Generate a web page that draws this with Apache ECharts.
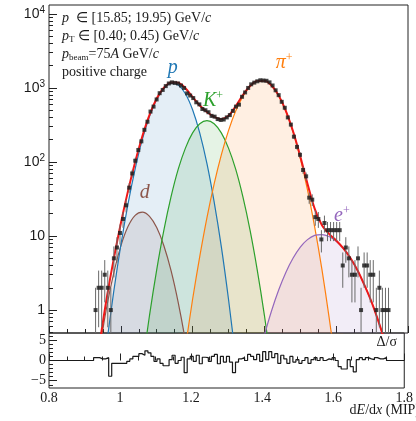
<!DOCTYPE html>
<html>
<head>
<meta charset="utf-8">
<script src="https://cdn.jsdelivr.net/npm/echarts@6/dist/echarts.min.js"></script>
<style>
  html, body { margin: 0; padding: 0; background: #fff; }
  #chart { width: 416px; height: 421px; }
</style>
</head>
<body>
<div id="chart"></div>
<script>
// histogram binning: first filled bin starts at 0.9255, width 0.0085
const binStart = 0.9255;
const binWidth = 0.0085;
const counts = [
  1, 2, 2, 3, 2, 1, 5, 7, 11, 17,
  26, 45, 70, 104, 145, 190, 272, 350, 480, 560,
  700, 850, 940, 1060, 1150, 1190, 1170, 1150, 1080, 1000,
  845, 790, 730, 640, 600, 520, 500, 470, 420, 410,
  380, 370, 375, 400, 430, 490, 560, 595, 760, 870,
  1000, 1120, 1180, 1230, 1270, 1260, 1250, 1190, 1080, 930,
  800, 650, 540, 400, 320, 220, 160, 125, 78, 64,
  33, 31, 18, 17, 9, 15, 12, 12, 12, 12,
  12, 4, 7, 5, 3, 3, 5, 1, 4, 4,
  3, 3, 1, 2, 1, 1, 1,
];
const residuals = [
  0.7, 0.7, 0.4, 0.4, 0.7, -3.9, -0.7, -0.7, -0.7, -0.7,
  -0.7, -0.2, 0.4, 1.0, 1.0, 1.7, 1.3, 2.4, 1.9, 1.0,
  -0.2, 0.4, -0.7, -1.3, -1.3, 0.2, 1.3, -0.7, 0, 0.8,
  -3.0, 0.4, 1.0, -0.2, 1.3, -0.8, 0.8, 0.7, -0.2, 1.0,
  1.5, -0.8, 1.0, -0.4, 1.0, -0.4, -3.0, -0.4, 0.4, 0.7,
  0, 1.5, 1.0, 0.2, 1.5, -0.2, 2.2, 0.2, 2.2, 0.7,
  1.7, -0.7, 1.3, 0.4, -0.7, 1.0, -0.4, 0.2, -0.7, 0,
  0.7, -0.7, 0.2, 0.7, 0, 0.7, 0, 0.4, 0.2, 0.7,
  0, -1.5, -2.1, -2.1, 0.2, -1.5, -2.8, 0.2, 0.7, 0.2,
  0.7, 0.4, 0.2, 0.7, 0.4, 0.4, 0.7,
];

// fitted curves read every 0.02 in dE/dx, starting at `start`
const fitStep = 0.02;
const deuteronFit = { start: 0.92, values: [0.055, 0.27, 1.05, 3.1, 7.3, 13.4, 19, 21, 18.4, 13, 7.4, 3.4, 1.26, 0.38, 0.09, 0.015] };
const protonFit = { start: 0.94, values: [0.05, 0.33, 1.73, 7.5, 27, 81, 202, 415, 704, 988, 1150, 1097, 836, 507, 246, 95, 29, 7.2, 1.4, 0.22, 0.028] };
const kaonFit = { start: 1.04, values: [0.028, 0.17, 0.85, 3.5, 12, 34, 80, 154, 247, 328, 361, 328, 247, 154, 80, 34, 12, 3.5, 0.85, 0.17, 0.028] };
const pionFit = { start: 1.16, values: [0.06, 0.31, 1.4, 5.3, 17.7, 50.6, 125, 265, 487, 770, 1051, 1237, 1253, 1079, 786, 485, 253, 112, 42, 13.3, 3.6, 0.81, 0.16, 0.025] };
const electronFit = { start: 1.36, values: [0.074, 0.2, 0.46, 0.98, 1.88, 3.25, 5.05, 7.1, 8.95, 10.2, 10.47, 9.85, 8.5, 6.8, 5.0, 3.4, 2.1, 1.23, 0.65, 0.32, 0.144, 0.06, 0.023] };
const totalFit = { start: 0.92, values: [
  0.062, 0.32, 1.38, 4.8, 14.8, 40.4, 100, 223, 434, 720,
  1007, 1187, 1178, 991, 755, 579, 474, 408, 379, 420,
  567, 804, 1063, 1241, 1254, 1080, 788, 488, 258, 119,
  51, 23.5, 14.1, 10.7, 8.7, 6.8, 5.0, 3.4, 2.1, 1.23,
  0.65, 0.32, 0.144, 0.06] };

const yMajor = [1, 10, 100, 1000, 10000];
const resMajor = [-5, 0, 5];

const serif = 'Liberation Serif';
const sans = 'Liberation Sans';
const ink = '#1a1a1a';

const toPairs = (fit) => fit.values.map((v, i) => [+(fit.start + i * fitStep).toFixed(2), v]);

const points = counts.map((c, i) => [binStart + (i + 0.5) * binWidth, c]);
const errors = counts.map((c, i) => [binStart + (i + 0.5) * binWidth, c, Math.sqrt(c)]);
const resSteps = [[0.8, 0]]
  .concat(residuals.map((r, i) => [binStart + i * binWidth, r]))
  .concat([[binStart + residuals.length * binWidth, 0], [1.8, 0]]);

const minorLog = [];
[0.1, 1, 10, 100, 1000].forEach((d) => {
  for (let m = 2; m <= 9; m++) {
    const v = +(d * m).toPrecision(3);
    if (v > 0.49 && v < 13200) minorLog.push(v);
  }
});
const resMinor = [-6, -4, -3, -2, -1, 1, 2, 3, 4, 6];

const labelRich = (color) => ({
  m: { fontFamily: serif, fontStyle: 'italic', fontSize: 20, color },
  s: { fontFamily: serif, fontSize: 12, color, padding: [0, 0, 10, 0] },
});

const component = (name, fit, color, label, coord) => ({
  name,
  type: 'line',
  xAxisIndex: 0,
  yAxisIndex: 0,
  data: toPairs(fit),
  smooth: 0.3,
  showSymbol: false,
  z: 2,
  lineStyle: { color, width: 1.2 },
  areaStyle: { color, opacity: 0.12, origin: 'start' },
  markPoint: {
    symbol: 'circle',
    symbolSize: 1,
    itemStyle: { color: 'rgba(0,0,0,0)' },
    label: { show: true, position: 'inside', formatter: label, rich: labelRich(color) },
    data: [{ coord }],
  },
});

const chart = echarts.init(document.getElementById('chart'));

const option = {
  animation: false,
  backgroundColor: '#fff',
  grid: [
    { left: 49, top: 5, width: 359, height: 328, show: true, borderColor: '#222', borderWidth: 1 },
    { left: 49, top: 333, width: 359, height: 55, show: true, borderColor: '#222', borderWidth: 1 },
  ],
  xAxis: [
    {
      gridIndex: 0, type: 'value', min: 0.8, max: 1.8, interval: 0.2,
      axisLine: { show: false },
      axisTick: { inside: true, length: 7, lineStyle: { color: '#222' } },
      minorTick: { show: true, splitNumber: 4, length: 4, lineStyle: { color: '#222' } },
      axisLabel: { show: false },
      splitLine: { show: false },
    },
    {
      gridIndex: 1, type: 'value', min: 0.8, max: 1.8, interval: 0.2,
      axisLine: { show: false },
      axisTick: { inside: true, length: 7, lineStyle: { color: '#222' } },
      minorTick: { show: true, splitNumber: 4, length: 4, lineStyle: { color: '#222' } },
      axisLabel: { fontFamily: serif, fontSize: 14, color: ink, margin: 3 },
      splitLine: { show: false },
    },
  ],
  yAxis: [
    {
      gridIndex: 0, type: 'log', logBase: 10, min: 0.49, max: 13200,
      axisLine: { show: false },
      axisTick: { inside: true, length: 8, customValues: yMajor, lineStyle: { color: '#222' } },
      axisLabel: {
        customValues: yMajor,
        margin: 4,
        formatter: (v) => {
          const e = Math.round(Math.log10(v));
          if (e === 0) return '{b|1}';
          if (e === 1) return '{b|10}';
          return '{b|10}{s|' + e + '}';
        },
        rich: {
          b: { fontFamily: sans, fontSize: 14, color: ink },
          s: { fontFamily: sans, fontSize: 10, color: ink, padding: [0, 0, 8, 0] },
        },
      },
      splitLine: { show: false },
    },
    {
      gridIndex: 0, type: 'log', logBase: 10, min: 0.49, max: 13200, position: 'left',
      axisLine: { show: false },
      axisTick: { inside: true, length: 4, customValues: minorLog, lineStyle: { color: '#222' } },
      axisLabel: { show: false },
      splitLine: { show: false },
    },
    {
      gridIndex: 1, type: 'value', min: -6.8, max: 6.8,
      axisLine: { show: false },
      axisTick: { inside: true, length: 8, customValues: resMajor, lineStyle: { color: '#222' } },
      axisLabel: {
        customValues: resMajor,
        margin: 3,
        fontFamily: serif, fontSize: 14, color: ink,
        formatter: (v) => String(v).replace('-', '\u2212'),
      },
      splitLine: { show: false },
    },
    {
      gridIndex: 1, type: 'value', min: -6.8, max: 6.8, position: 'left',
      axisLine: { show: false },
      axisTick: { inside: true, length: 4, customValues: resMinor, lineStyle: { color: '#222' } },
      axisLabel: { show: false },
      splitLine: { show: false },
    },
  ],
  series: [
    component('d', deuteronFit, '#8c564b', '{m|d}', [1.067, 38]),
    component('p', protonFit, '#1f77b4', '{m|p}', [1.145, 1860]),
    component('K+', kaonFit, '#2ca02c', '{m|K}{s|+}', [1.257, 667]),
    component('pi+', pionFit, '#ff7f0e', '{m|\u03c0}{s|+}', [1.455, 2180]),
    component('e+', electronFit, '#9467bd', '{m|e}{s|+}', [1.616, 18.6]),
    {
      name: 'fit',
      type: 'line',
      xAxisIndex: 0,
      yAxisIndex: 0,
      data: toPairs(totalFit),
      smooth: 0.3,
      showSymbol: false,
      z: 3,
      lineStyle: { color: '#f01818', width: 2 },
    },
    {
      name: 'errors',
      type: 'custom',
      xAxisIndex: 0,
      yAxisIndex: 0,
      clip: true,
      z: 4,
      data: errors,
      renderItem: (params, api) => {
        const x = api.value(0);
        const y = api.value(1);
        const e = api.value(2);
        const top = api.coord([x, y + e]);
        const bot = api.coord([x, Math.max(y - e, 0.01)]);
        return {
          type: 'line',
          shape: { x1: top[0], y1: top[1], x2: bot[0], y2: bot[1] },
          style: { stroke: '#6a6a6a', lineWidth: 1 },
        };
      },
    },
    {
      name: 'data',
      type: 'scatter',
      xAxisIndex: 0,
      yAxisIndex: 0,
      symbol: 'rect',
      symbolSize: 4,
      z: 5,
      itemStyle: { color: '#1a1a1a' },
      data: points,
    },
    {
      name: 'residual',
      type: 'line',
      xAxisIndex: 1,
      yAxisIndex: 2,
      step: 'end',
      showSymbol: false,
      lineStyle: { color: ink, width: 1.2 },
      data: resSteps,
    },
  ],
  graphic: [
    {
      type: 'text', x: 62, y: 18,
      style: {
        text: '{i|p}{r|  \u2208 [15.85; 19.95) GeV/}{i|c}',
        verticalAlign: 'middle',
        rich: {
          r: { fontFamily: serif, fontSize: 14, fill: ink },
          i: { fontFamily: serif, fontStyle: 'italic', fontSize: 14, fill: ink },
        },
      },
    },
    {
      type: 'text', x: 62, y: 36,
      style: {
        text: '{i|p}{sub|T}{r| \u2208 [0.40; 0.45) GeV/}{i|c}',
        verticalAlign: 'middle',
        rich: {
          r: { fontFamily: serif, fontSize: 14, fill: ink },
          i: { fontFamily: serif, fontStyle: 'italic', fontSize: 14, fill: ink },
          sub: { fontFamily: serif, fontSize: 9, fill: ink, padding: [8, 0, 0, 0] },
        },
      },
    },
    {
      type: 'text', x: 62, y: 54,
      style: {
        text: '{i|p}{sub|beam}{r|=75}{i|A}{r| GeV/}{i|c}',
        verticalAlign: 'middle',
        rich: {
          r: { fontFamily: serif, fontSize: 14, fill: ink },
          i: { fontFamily: serif, fontStyle: 'italic', fontSize: 14, fill: ink },
          sub: { fontFamily: serif, fontSize: 9, fill: ink, padding: [8, 0, 0, 0] },
        },
      },
    },
    {
      type: 'text', x: 62, y: 72,
      style: { text: 'positive charge', verticalAlign: 'middle', font: '14px "Liberation Serif"', fill: ink },
    },
    {
      type: 'text', x: 397, y: 342,
      style: { text: '\u0394/\u03c3', align: 'right', verticalAlign: 'middle', font: '14px "Liberation Serif"', fill: ink },
    },
    {
      type: 'text', x: 420, y: 410,
      style: {
        text: '{r|d}{i|E}{r|/d}{i|x}{r| (MIP)}',
        align: 'right',
        verticalAlign: 'middle',
        rich: {
          r: { fontFamily: serif, fontSize: 14, fill: ink },
          i: { fontFamily: serif, fontStyle: 'italic', fontSize: 14, fill: ink },
        },
      },
    },
  ],
};

chart.setOption(option);
window.onresize = () => chart.resize();
</script>
</body>
</html>
